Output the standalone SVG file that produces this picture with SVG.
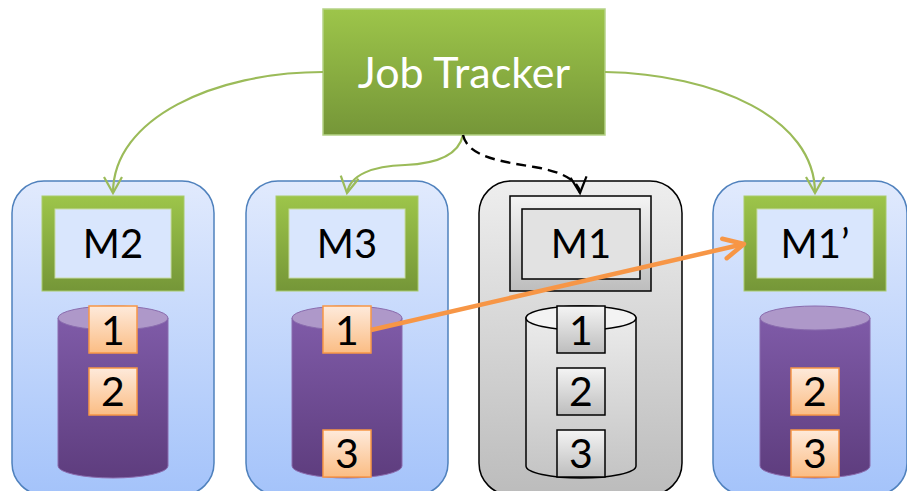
<svg xmlns="http://www.w3.org/2000/svg" width="907" height="491" viewBox="0 0 907 491">
  <defs>
    <linearGradient id="gNode" x1="0" y1="0" x2="0" y2="1">
      <stop offset="0" stop-color="#e1eafd"/>
      <stop offset="1" stop-color="#a4c3fa"/>
    </linearGradient>
    <linearGradient id="gNodeGray" x1="0" y1="0" x2="0" y2="1">
      <stop offset="0" stop-color="#eeeeee"/>
      <stop offset="1" stop-color="#bcbcbc"/>
    </linearGradient>
    <linearGradient id="gGreen" x1="0" y1="0" x2="0" y2="1">
      <stop offset="0" stop-color="#9dc54a"/>
      <stop offset="1" stop-color="#759638"/>
    </linearGradient>
    <linearGradient id="gPurple" x1="0" y1="0" x2="0" y2="1">
      <stop offset="0" stop-color="#7f5ba8"/>
      <stop offset="1" stop-color="#5e3d7e"/>
    </linearGradient>
    <linearGradient id="gOrange" x1="0" y1="0" x2="0" y2="1">
      <stop offset="0" stop-color="#feeadb"/>
      <stop offset="1" stop-color="#fbbd84"/>
    </linearGradient>
    <linearGradient id="gGrayBox" x1="0" y1="0" x2="0" y2="1">
      <stop offset="0" stop-color="#f4f4f4"/>
      <stop offset="1" stop-color="#bdbdbd"/>
    </linearGradient>
    <linearGradient id="gGrayCyl" x1="0" y1="0" x2="0" y2="1">
      <stop offset="0" stop-color="#ebebeb"/>
      <stop offset="1" stop-color="#c4c4c4"/>
    </linearGradient>
    <marker id="arrGreen" markerUnits="userSpaceOnUse" markerWidth="40" markerHeight="40" viewBox="-20 -20 40 40" refX="0" refY="0" orient="auto">
      <path d="M-16,-9 L0,0 L-16,9" fill="none" stroke="#9bbb59" stroke-width="2.2"/>
    </marker>
    <marker id="arrBlack" markerUnits="userSpaceOnUse" markerWidth="40" markerHeight="40" viewBox="-20 -20 40 40" refX="0" refY="0" orient="auto">
      <path d="M-16,-8 L0,0 L-16,8" fill="none" stroke="#000" stroke-width="2.2"/>
    </marker>
    <marker id="arrOrange" markerUnits="userSpaceOnUse" markerWidth="50" markerHeight="50" viewBox="-25 -25 50 50" refX="0" refY="0" orient="auto">
      <path d="M-20,-10 L0,0 L-20,10" fill="none" stroke="#f79646" stroke-width="4.5" stroke-linecap="round" stroke-linejoin="round"/>
    </marker>
  </defs>
  <style>
    .node { fill: url(#gNode); stroke: #4f81bd; stroke-width: 1.5; }
    .nodeGray { fill: url(#gNodeGray); stroke: #000; stroke-width: 1.5; }
    .frame { fill: url(#gGreen); stroke: #a9cb6c; stroke-width: 1; }
    .frameIn { fill: #d9e6fd; stroke: #c8dca6; stroke-width: 1; }
    .frameGray { fill: url(#gGrayBox); stroke: #000; stroke-width: 1.5; }
    .frameGrayIn { fill: #e2e2e2; stroke: #000; stroke-width: 1.5; }
    .cyl { fill: url(#gPurple); stroke: #8a6cae; stroke-width: 1; }
    .cylTop { fill: #ae98c9; stroke: #8a6cae; stroke-width: 1; }
    .cylGray { fill: url(#gGrayCyl); stroke: #000; stroke-width: 1.5; }
    .cylGrayTop { fill: #f3f3f3; stroke: #000; stroke-width: 1.5; }
    .blk { fill: url(#gOrange); stroke: #f79646; stroke-width: 1.5; }
    .blkGray { fill: url(#gGrayBox); stroke: #000; stroke-width: 1.5; }
    .num { font-family: Lato, "Liberation Sans", sans-serif; font-size: 41px; fill: #000; text-anchor: middle; }
    .lbl { font-family: Lato, "Liberation Sans", sans-serif; font-size: 40px; fill: #000; text-anchor: middle; }
    .title { font-family: Lato, "Liberation Sans", sans-serif; font-size: 43px; fill: #fff; text-anchor: middle; }
    .link { fill: none; stroke: #9bbb59; stroke-width: 2.2; marker-end: url(#arrGreen); }
  </style>

  <!-- Job tracker -->
  <g id="jobtracker">
    <rect x="323" y="9" width="282" height="126" fill="url(#gGreen)" stroke="#b5d286" stroke-width="1.5"/>
    <text class="title" x="464" y="88">Job Tracker</text>
  </g>

  <!-- Machine M2 -->
  <g id="m2">
    <rect class="node" x="12" y="181" width="202" height="314" rx="32"/>
    <rect class="frame" x="42" y="196" width="142" height="95"/>
    <rect class="frameIn" x="55" y="209" width="116" height="69"/>
    <text class="lbl" x="113" y="258">M2</text>
    <path class="cyl" d="M58,318 V466 A55,12 0 0 0 168,466 V318 Z"/>
    <ellipse class="cylTop" cx="113" cy="318" rx="55" ry="12"/>
    <rect class="blk" x="89" y="306" width="48" height="47"/>
    <text class="num" x="113" y="345">1</text>
    <rect class="blk" x="89" y="368" width="48" height="47"/>
    <text class="num" x="113" y="406">2</text>
  </g>

  <!-- Machine M3 -->
  <g id="m3">
    <rect class="node" x="246" y="181" width="202" height="314" rx="32"/>
    <rect class="frame" x="276" y="196" width="142" height="95"/>
    <rect class="frameIn" x="289" y="209" width="116" height="69"/>
    <text class="lbl" x="347" y="258">M3</text>
    <path class="cyl" d="M292,318 V466 A55,12 0 0 0 402,466 V318 Z"/>
    <ellipse class="cylTop" cx="347" cy="318" rx="55" ry="12"/>
    <rect class="blk" x="323" y="306" width="48" height="47"/>
    <text class="num" x="347" y="345">1</text>
    <rect class="blk" x="323" y="430" width="48" height="47"/>
    <text class="num" x="347" y="468">3</text>
  </g>

  <!-- Machine M1 (failed) -->
  <g id="m1">
    <rect class="nodeGray" x="479" y="181" width="203" height="314" rx="32"/>
    <rect class="frameGray" x="510" y="196" width="141" height="95"/>
    <rect class="frameGrayIn" x="522" y="209" width="118" height="70"/>
    <text class="lbl" x="581" y="258">M1</text>
    <path class="cylGray" d="M526,318 V466 A55,12 0 0 0 636,466 V318 Z"/>
    <ellipse class="cylGrayTop" cx="581" cy="318" rx="55" ry="12"/>
    <rect class="blkGray" x="557" y="306" width="48" height="47"/>
    <text class="num" x="581" y="345">1</text>
    <rect class="blkGray" x="557" y="368" width="48" height="47"/>
    <text class="num" x="581" y="406">2</text>
    <rect class="blkGray" x="557" y="430" width="48" height="47"/>
    <text class="num" x="581" y="468">3</text>
  </g>

  <!-- Machine M1' (replacement) -->
  <g id="m1prime">
    <rect class="node" x="713" y="181" width="194" height="314" rx="32"/>
    <rect class="frame" x="744" y="196" width="142" height="95"/>
    <rect class="frameIn" x="757" y="209" width="116" height="69"/>
    <text class="lbl" x="815" y="258">M1’</text>
    <path class="cyl" d="M760,318 V466 A55,12 0 0 0 870,466 V318 Z"/>
    <ellipse class="cylTop" cx="815" cy="318" rx="55" ry="12"/>
    <rect class="blk" x="791" y="368" width="48" height="47"/>
    <text class="num" x="815" y="406">2</text>
    <rect class="blk" x="791" y="430" width="48" height="47"/>
    <text class="num" x="815" y="468">3</text>
  </g>

  <!-- Connectors -->
  <g id="connectors">
    <path class="link" d="M323,72 C215,72 113,118 113,193"/>
    <path class="link" d="M463,135 C458,158 430,164 405,165 C372,166 350,175 347,193"/>
    <path class="link" d="M605,72 C715,74 815,118 815,193"/>
    <path d="M463,135 C468,158 505,162 540,168 C565,173 579,182 580,193" fill="none" stroke="#000" stroke-width="2.4" stroke-dasharray="10 6" marker-end="url(#arrBlack)"/>
    <path d="M371,330 L744,244" fill="none" stroke="#f79646" stroke-width="4.5" marker-end="url(#arrOrange)"/>
  </g>
</svg>
